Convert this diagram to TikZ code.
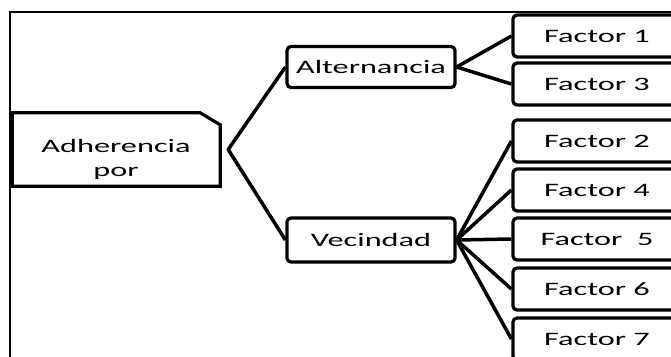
\documentclass[tikz,border=0pt]{standalone}
\usepackage{fontspec}
\setmainfont{Carlito}[FakeStretch=1.7]
\usetikzlibrary{positioning}
\tikzset{
    caja/.style={draw, line width=3.2pt, rounded corners=4pt, font=\fontsize{19}{22}\selectfont, inner sep=2pt},
    factorcaja/.style={caja, minimum width=168pt, minimum height=42pt},
    ramacaja/.style={caja, minimum width=168pt, minimum height=41pt},
    rama/.style={line width=3.5pt, line join=round}
}

\begin{document}
\begin{tikzpicture}[x=1pt, y=-1pt]
    \path[use as bounding box] (0,0) rectangle (671,356);
    \clip (0,0) rectangle (671,356);
    \draw[line width=1.5pt] (10,360) -- (10,12) -- (680,12);

    % raiz
    \node[minimum width=208pt, minimum height=73pt, inner sep=0pt] (raiz) at (116,149.5) {};
    \draw[line width=3.2pt] (raiz.north west) -- ([xshift=-20pt]raiz.north east) -- ([yshift=-12pt]raiz.north east) -- (raiz.south east) -- (raiz.south west) -- cycle;
    \draw[line width=5pt] (raiz.north west) -- (raiz.south west);
    \node[font=\fontsize{19}{24}\selectfont, align=center, inner sep=0pt] (raiztxt) at (116,159) {Adherencia\\por};
    \coordinate (rj) at ([xshift=8pt]raiz.east);

    % ramas
    \node[ramacaja] (alt) at (371,67) {Alternancia};
    \node[ramacaja, minimum height=44pt] (vec) at (371,240) {Vecindad};
    \draw[rama] (alt.west) -- (rj) -- (vec.west);

    % factores
    \foreach \n/\y/\t in {f1/36/{Factor 1}, f3/84/{Factor 3}, f2/141/{Factor 2}, f4/190/{Factor 4}, f5/239/{Factor\ \ 5}, f6/289/{Factor 6}, f7/339/{Factor 7}}
        \node[factorcaja] (\n) at (597,\y) {\t};

    \foreach \n in {f1,f3}
        \draw[rama] (alt.east) -- (\n.west);
    \foreach \n in {f2,f4,f5,f6,f7}
        \draw[rama] (vec.east) -- (\n.west);
\end{tikzpicture}
\end{document}
